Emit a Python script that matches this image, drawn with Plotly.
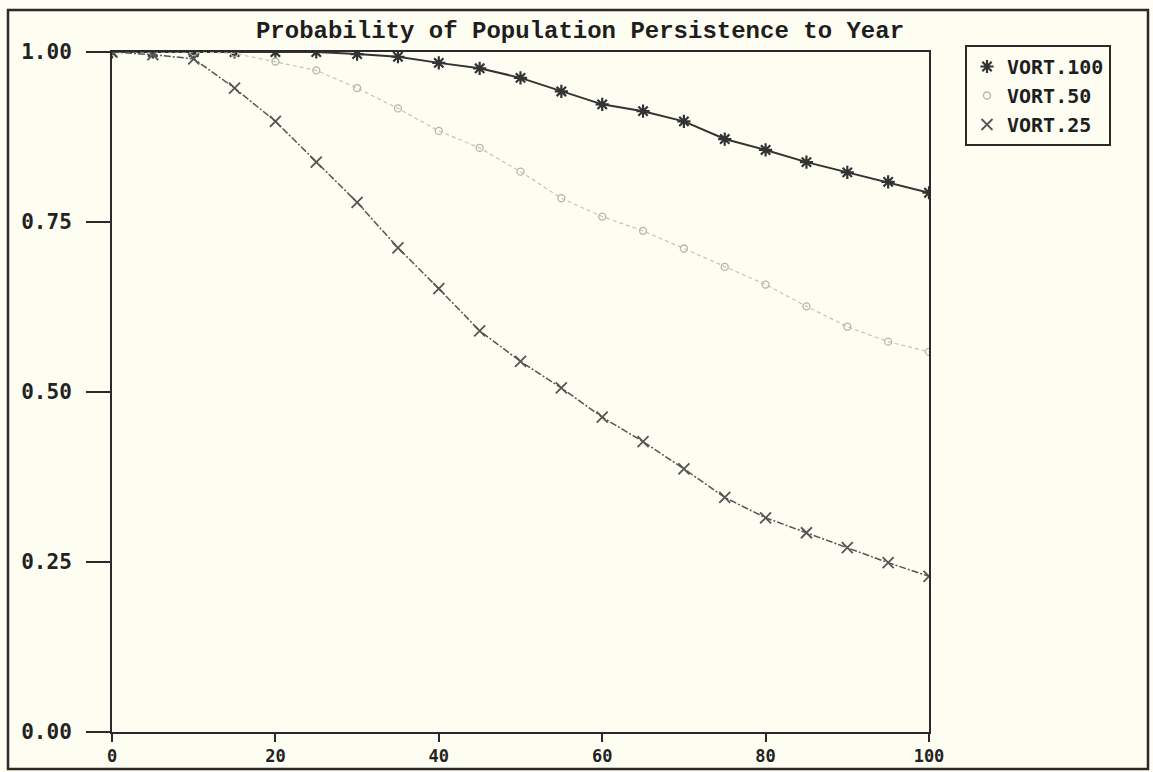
import plotly.graph_objects as go

# Simulation years (every 5 years out to year 100)
years = [0, 5, 10, 15, 20, 25, 30, 35, 40, 45, 50,
         55, 60, 65, 70, 75, 80, 85, 90, 95, 100]

# Probability of persistence for each scenario
vort_100 = [1.000, 1.000, 1.000, 1.000, 1.000, 1.000, 0.997, 0.993, 0.984, 0.976, 0.962,
            0.942, 0.923, 0.913, 0.898, 0.872, 0.856, 0.838, 0.823, 0.809, 0.793]
vort_50 = [1.000, 1.000, 1.000, 0.998, 0.986, 0.973, 0.947, 0.917, 0.884, 0.859, 0.824,
           0.785, 0.758, 0.737, 0.711, 0.684, 0.658, 0.626, 0.596, 0.574, 0.559]
vort_25 = [1.000, 0.996, 0.990, 0.947, 0.898, 0.838, 0.779, 0.712, 0.652, 0.590, 0.545,
           0.506, 0.463, 0.427, 0.387, 0.345, 0.315, 0.293, 0.271, 0.249, 0.229]

series_names = ["VORT.100", "VORT.50", "VORT.25"]
x_ticks = [0, 20, 40, 60, 80, 100]
y_ticks = [0.0, 0.25, 0.5, 0.75, 1.0]

W, H = 1153, 772
L, R, T, B = 112, 929, 52, 732   # plot area in pixels
paper = "#fdfdf1"
ink = "#2a2a2a"
mono = "DejaVu Sans Mono, Liberation Mono, monospace"

styles = [
    dict(line=dict(color="#333333", width=2),
         marker=dict(symbol="asterisk-open", size=11, color="#333333",
                     line=dict(color="#333333", width=2.2))),
    dict(line=dict(color="#c4c4bc", width=1.2, dash="4px,3px"),
         marker=dict(symbol="circle-open", size=7, color="#b4b4ac",
                     line=dict(color="#b4b4ac", width=1.3))),
    dict(line=dict(color="#555555", width=1.5, dash="7px,2px,2px,2px"),
         marker=dict(symbol="x-thin-open", size=11, color="#555555",
                     line=dict(color="#555555", width=1.8))),
]

fig = go.Figure()

for name, vals, st in zip(series_names, [vort_100, vort_50, vort_25], styles):
    fig.add_trace(go.Scatter(
        x=years, y=vals, name=name, mode="lines+markers",
        line=st["line"], marker=st["marker"], showlegend=False,
        legendgroup=name,
    ))
    # key entry shows the marker symbol only
    fig.add_trace(go.Scatter(
        x=[None], y=[None], name=f"<b>{name}</b>", mode="markers",
        marker=st["marker"], legendgroup=name, showlegend=True,
    ))

pw, ph = R - L, B - T

def px_x(p):
    return (p - L) / pw

def px_y(p):
    return (B - p) / ph

# outer frame of the printed figure
fig.add_shape(type="rect", xref="paper", yref="paper",
              x0=px_x(8), x1=px_x(1148), y0=px_y(769), y1=px_y(10),
              line=dict(color=ink, width=2.5), layer="below")

fig.update_layout(
    width=W, height=H,
    margin=dict(l=L, r=W - R, t=T, b=H - B, autoexpand=False),
    paper_bgcolor=paper, plot_bgcolor=paper,
    font=dict(family=mono, color=ink),
    title=dict(text="<b>Probability of Population Persistence to Year</b>",
               x=580 / W, xref="container", xanchor="center",
               y=1 - 30 / H, yref="container", yanchor="middle",
               font=dict(family="Liberation Mono, Courier New, monospace", size=24, color="#1e1e1e")),
    showlegend=True,
    legend=dict(x=px_x(965), y=px_y(45), xanchor="left", yanchor="top",
                bgcolor=paper, bordercolor=ink, borderwidth=2,
                font=dict(family=mono, size=20, color="#1e1e1e"),
                itemwidth=30, tracegroupgap=0, itemclick=False),
)

fig.update_xaxes(
    range=[0, 100], tickvals=x_ticks, ticktext=[f"<b>{v}</b>" for v in x_ticks],
    showgrid=False, zeroline=False, automargin=False,
    showline=True, linecolor=ink, linewidth=2, mirror=True,
    ticks="outside", ticklen=8, tickwidth=1.5, tickcolor=ink,
    ticklabelstandoff=0,
    tickfont=dict(family=mono, size=17, color="#222222"),
)
fig.update_yaxes(
    range=[0, 1], tickvals=y_ticks, ticktext=[f"<b>{v:.2f}</b>" for v in y_ticks],
    showgrid=False, zeroline=False, automargin=False,
    showline=True, linecolor=ink, linewidth=2, mirror=True,
    ticks="outside", ticklen=24, tickwidth=1.5, tickcolor=ink,
    ticklabelstandoff=10,
    tickfont=dict(family=mono, size=21, color="#222222"),
)

fig.write_html("out.html")
